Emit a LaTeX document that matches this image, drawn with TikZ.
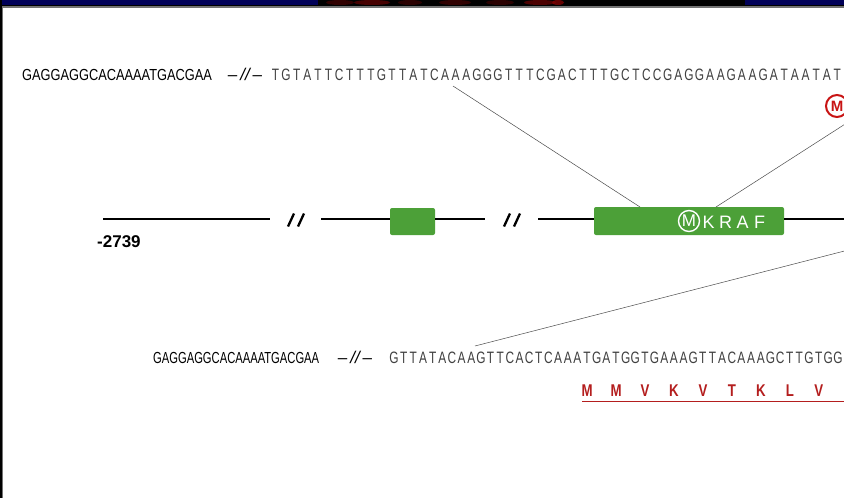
\documentclass[tikz,border=0pt]{standalone}
\usepackage{fontspec}
\setmainfont{Liberation Sans}
\newfontfamily\seqnarrow[FakeStretch=0.8]{Liberation Sans}
\newfontfamily\seqnarrower[FakeStretch=0.70]{Liberation Sans}
\newfontfamily\seqthin[FakeStretch=0.72]{Liberation Sans}
\newfontfamily\aafont[FakeStretch=0.78]{Liberation Sans}
\usetikzlibrary{calc}

% set a string letter by letter on a fixed pitch
\makeatletter
\newcommand\pitched[2]{\def\pitch@w{#1}\pitch@loop#2\relax}
\def\pitch@loop#1{\ifx#1\relax\else\makebox[\pitch@w][c]{#1}\expandafter\pitch@loop\fi}
\makeatother
% the "-//-" gap marker inside a sequence
\newcommand\seqgap{{\fontsize{17}{17}\selectfont –\hspace{3pt}\textit{//}\hspace{1.5pt}–}}

\definecolor{exongreen}{RGB}{76,160,56}
\definecolor{aared}{RGB}{180,30,30}
\definecolor{startred}{RGB}{200,20,20}
\definecolor{navyband}{RGB}{0,0,88}

\begin{document}
\begin{tikzpicture}[x=1pt,y=-1pt,
  seqtext/.style={inner sep=0pt, anchor=base west},
  cond/.style={seqtext, font=\seqnarrow\fontsize{16}{18}\selectfont},
  condb/.style={seqtext, font=\seqnarrower\fontsize{16}{18}\selectfont},
  gaptext/.style={inner sep=0pt, anchor=base},
  thinseq/.style={seqtext, text=black!75, font=\seqthin\fontsize{16.5}{18}\selectfont},
  exon/.style={fill=exongreen, rounded corners=2pt, inner sep=0pt},
  gline/.style={line width=2pt, black},
  slash/.style={line width=2.3pt, black},
  leader/.style={line width=0.5pt, black!70},
]
\useasboundingbox (0,0) rectangle (844,498);
\clip (0,0) rectangle (844,498);

% window frame
\fill[white] (0,0) rectangle (844,498);
\fill[navyband] (0,0) rectangle (318,5);
\fill[black] (318,0) rectangle (745,5);
\fill[navyband] (745,0) rectangle (844,5);
\foreach \cx/\w/\o in {340/14/0.35, 372/18/0.5, 410/12/0.3, 455/16/0.35, 500/14/0.3, 540/16/0.55, 558/6/0.7}
  \fill[red!55!black, opacity=\o] (\cx,2.5) ellipse ({\w} and 2.5);
\fill[black] (0,5) rectangle (844,6);
\fill[black!55] (0,6) rectangle (844,7.5);
\fill[black] (0,0) rectangle (2,498);
\fill[black!55] (2,7) rectangle (3,498);

% upper genomic sequence
\node[cond] (topL) at (22,80) {GAGGAGGCACAAAATGACGAA};
\node[gaptext] (topBrk) at (245,80) {\seqgap};
\node[thinseq] (topR) at (270,80) {\pitched{10.6pt}{TGTATTCTTTGTTATCAAAGGGTTTCGACTTTGCTCCGAGGAAGAAGATAATAT}};
\node[draw=startred, circle, line width=2pt, minimum size=22pt, inner sep=0pt,
      text=startred, font=\bfseries\fontsize{15}{15}\selectfont] (startTop) at (837,106) {M};

% gene model
\coordinate (g0) at (103,219);
\coordinate (g1) at (270,219);
\coordinate (br1) at (296,220);
\coordinate (g2) at (321,219);
\node[exon, minimum width=45pt, minimum height=27pt] (ex1) at (412.5,221.5) {};
\coordinate (g3) at (485,219);
\coordinate (br2) at (512,220);
\coordinate (g4) at (538,219);
\node[exon, minimum width=190pt, minimum height=28pt] (ex2) at (689,221) {};
\coordinate (g5) at (860,219);
\draw[gline] (g0) -- (g1);
\draw[gline] (g2) -- (ex1.west |- g2);
\draw[gline] (ex1.east |- g2) -- (g3);
\draw[gline] (g4) -- (ex2.west |- g4);
\draw[gline] (ex2.east |- g4) -- (g5);
\foreach \b in {br1, br2} {
  \draw[slash] ($(\b)+(-8,6.5)$) -- ($(\b)+(-2,-6.5)$);
  \draw[slash] ($(\b)+(2,6.5)$) -- ($(\b)+(8,-6.5)$);
}
\node[seqtext, font=\bfseries\fontsize{17}{17}\selectfont] (pos) at (97,247) {-2739};

% label inside the coding exon
\node[draw=white, circle, line width=1.4pt, minimum size=21pt, inner sep=0pt,
      text=white, font=\fontsize{17}{17}\selectfont] (startEx) at (689,221) {M};
\node[seqtext, text=white, font=\fontsize{18}{18}\selectfont] (gname) at (700,228)
  {\pitched{17pt}{KRAF}};

% leaders from the sequences to the exon
\coordinate (tA) at (453,86);
\coordinate (hitA) at (640,207);
\coordinate (hitB) at (716,207);
\coordinate (tB) at (860,114.5);
\coordinate (hitC) at (860,247);
\coordinate (bA) at (475,346);
\draw[leader] (tA) -- (hitA);
\draw[leader] (hitB) -- (tB);
\draw[leader] (bA) -- (hitC);

% lower genomic sequence with its translation
\node[condb] (botL) at (153,363) {GAGGAGGCACAAAATGACGAA};
\node[gaptext] (botBrk) at (355,363) {\seqgap};
\node[thinseq] (botR) at (389,363) {\pitched{9.65pt}{GTTATACAAGTTCACTCAAATGATGGTGAAAGTTACAAAGCTTGTGG}};
\node[seqtext, text=aared, font=\aafont\bfseries\fontsize{17}{17}\selectfont] (prot) at (572.5,396)
  {\pitched{28.95pt}{MMVKVTKLV}};
\coordinate (ul0) at (582,401.5);
\coordinate (ul1) at (860,401.5);
\draw[aared, line width=0.8pt] (ul0) -- (ul1);
\end{tikzpicture}
\end{document}
